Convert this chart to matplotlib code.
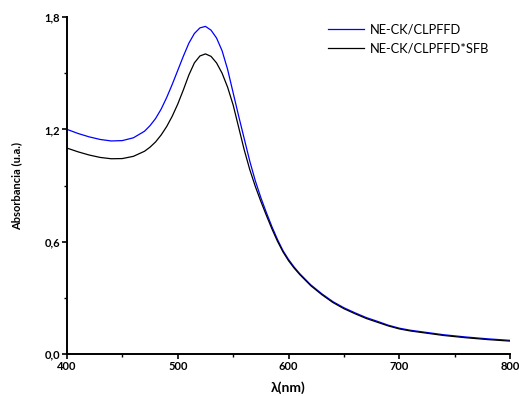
import matplotlib.pyplot as plt
import matplotlib as mpl
from matplotlib.ticker import MultipleLocator, FuncFormatter

mpl.rcParams['font.family'] = ['Lato', 'DejaVu Sans']
mpl.rcParams['font.size'] = 8

# wavelength (nm) and absorbance
wavelength = [400, 410, 420, 430, 440, 450, 460, 470, 475, 480, 485, 490, 495,
              500, 505, 510, 515, 520, 525, 530, 535, 540, 545, 550, 555, 560,
              565, 570, 575, 580, 585, 590, 595, 600, 605, 610, 620, 630, 640,
              650, 660, 670, 680, 690, 700, 710, 720, 730, 740, 750, 760, 770,
              780, 790, 800]

abs_ck = [1.200, 1.178, 1.160, 1.146, 1.138, 1.140, 1.155, 1.190, 1.220, 1.258,
          1.308, 1.370, 1.440, 1.515, 1.590, 1.660, 1.712, 1.742, 1.750, 1.730,
          1.688, 1.620, 1.520, 1.395, 1.270, 1.150, 1.030, 0.925, 0.835, 0.755,
          0.680, 0.612, 0.552, 0.505, 0.465, 0.430, 0.370, 0.322, 0.280, 0.247,
          0.220, 0.195, 0.175, 0.154, 0.138, 0.127, 0.119, 0.111, 0.103, 0.097,
          0.091, 0.086, 0.081, 0.077, 0.073]

abs_ck_sfb = [1.100, 1.080, 1.063, 1.050, 1.043, 1.044, 1.056, 1.083, 1.105, 1.133,
              1.170, 1.215, 1.270, 1.335, 1.410, 1.490, 1.555, 1.592, 1.603, 1.590,
              1.555, 1.500, 1.425, 1.330, 1.210, 1.090, 0.985, 0.895, 0.815, 0.740,
              0.668, 0.602, 0.545, 0.498, 0.459, 0.425, 0.365, 0.317, 0.275, 0.242,
              0.215, 0.190, 0.170, 0.150, 0.134, 0.123, 0.115, 0.107, 0.099, 0.093,
              0.087, 0.082, 0.077, 0.073, 0.069]

fig = plt.figure(figsize=(5.19, 3.96), dpi=100, facecolor='white')
ax = fig.add_axes([0.129, 0.106, 0.854, 0.851])

ax.plot(wavelength, abs_ck, color='#0000ff', lw=0.9, label='NE-CK/CLPFFD')
ax.plot(wavelength, abs_ck_sfb, color='#000000', lw=0.9, label='NE-CK/CLPFFD*SFB')

ax.set_xlim(400, 800)
ax.set_ylim(0, 1.8)

ax.spines['top'].set_visible(False)
ax.spines['right'].set_visible(False)
for s in ['left', 'bottom']:
    ax.spines[s].set_linewidth(1.4)

ax.xaxis.set_major_locator(MultipleLocator(100))
ax.xaxis.set_minor_locator(MultipleLocator(50))
ax.yaxis.set_major_locator(MultipleLocator(0.6))
ax.yaxis.set_minor_locator(MultipleLocator(0.3))
ax.yaxis.set_major_formatter(FuncFormatter(lambda v, p: f'{v:.1f}'.replace('.', ',')))

ax.tick_params(which='major', direction='out', length=3.5, width=1.2, pad=1.5)
ax.tick_params(which='minor', direction='out', length=2, width=1.0)
for lab in ax.get_xticklabels() + ax.get_yticklabels():
    lab.set_fontweight('bold')

ax.set_xlabel('λ(nm)', fontsize=10, fontweight='bold', labelpad=7)
ax.set_ylabel('Absorbancia (u.a.)', fontsize=8, fontweight='bold', labelpad=16)

ax.legend(loc='upper left', bbox_to_anchor=(0.562, 1.015), frameon=False,
          fontsize=9.3, handlelength=2.8, handletextpad=0.5, labelspacing=0.5)

fig.savefig('out.png', dpi=100)
